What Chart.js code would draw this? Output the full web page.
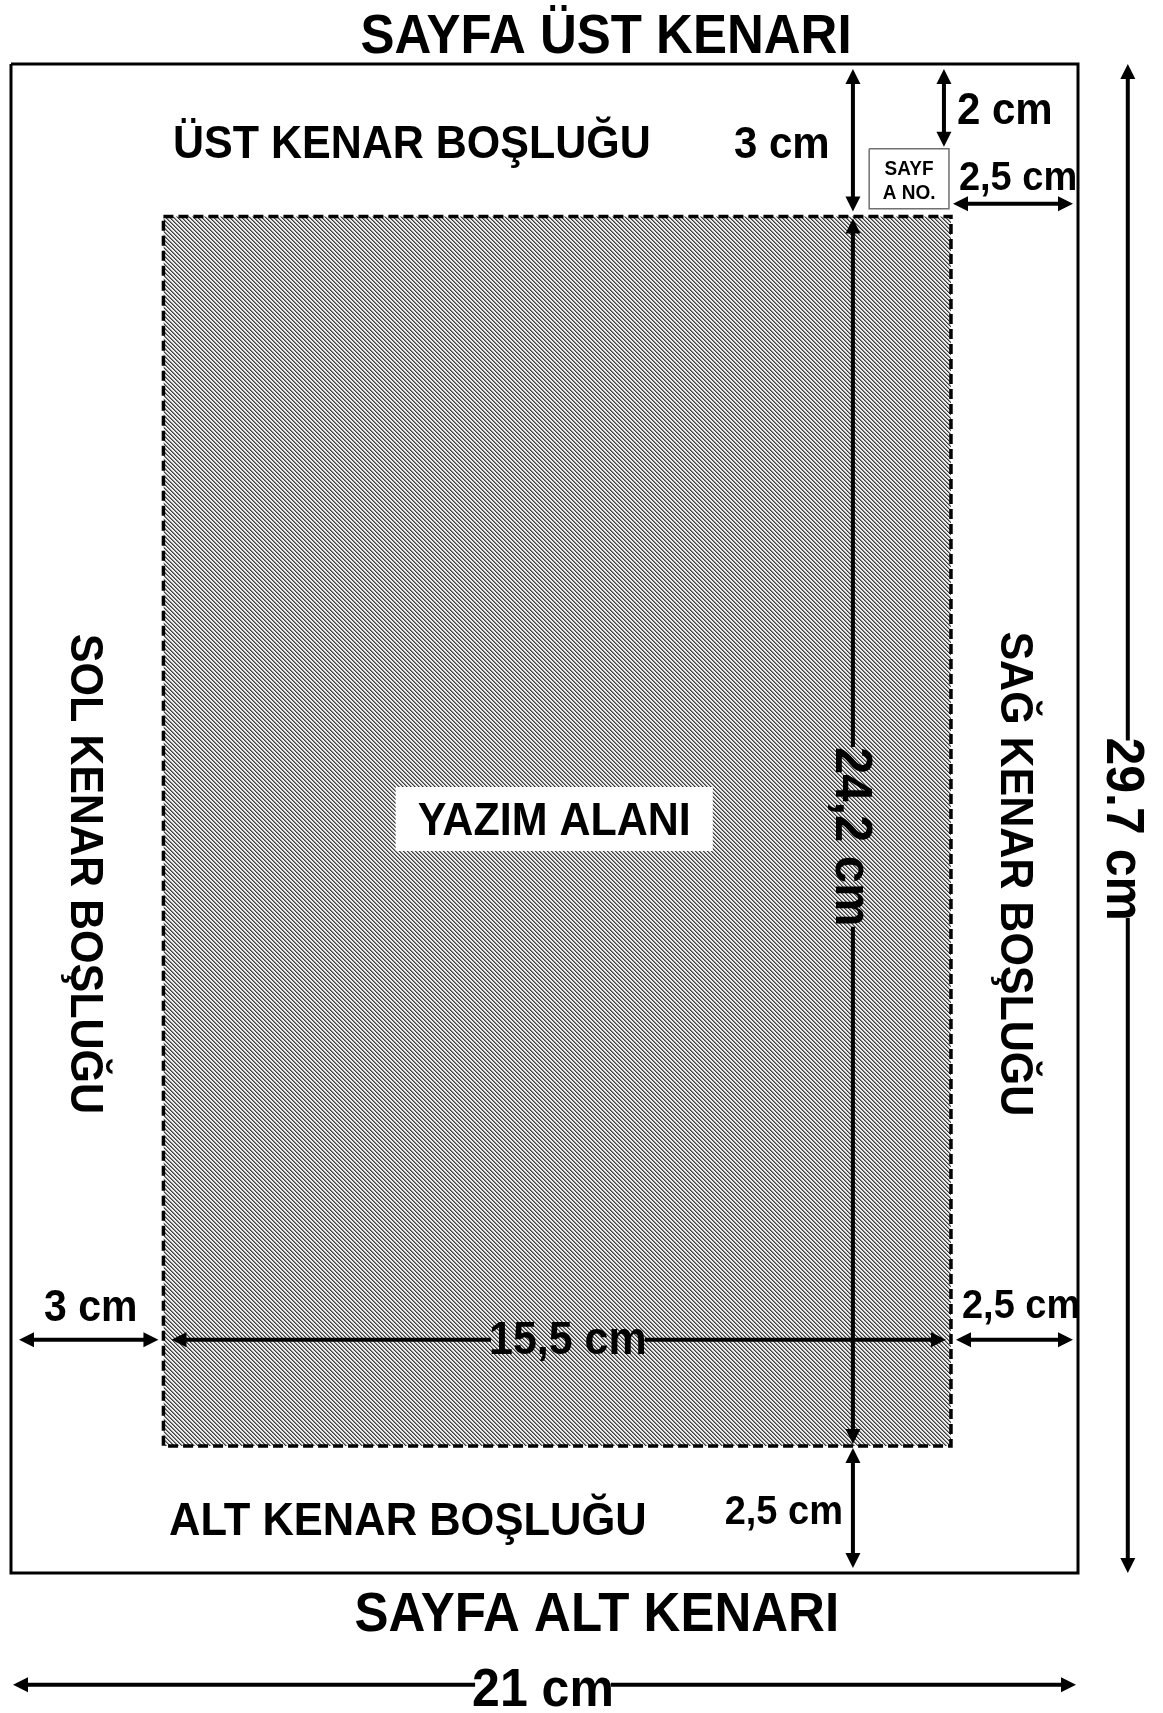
<!DOCTYPE html>
<html lang="tr">
<head>
<meta charset="utf-8">
<title>Sayfa Düzeni</title>
<script src="https://cdn.jsdelivr.net/npm/chart.js@4/dist/chart.umd.min.js"></script>
<style>
  html, body { margin: 0; padding: 0; background: #fff; }
  canvas { display: block; }
</style>
</head>
<body>
<canvas id="sayfa" width="1163" height="1713"></canvas>
<script>
// A4 sayfa ölçüleri ve kenar boşlukları (cm)
const pageSize = [21, 29.7];                 // genişlik, yükseklik
const pageSizeLabels = ['21 cm', '29.7 cm'];
const margins = [3, 3, 2.5, 2.5];            // üst, sol, sağ, alt
const marginLabels = ['ÜST KENAR BOŞLUĞU', 'SOL KENAR BOŞLUĞU', 'SAĞ KENAR BOŞLUĞU', 'ALT KENAR BOŞLUĞU'];
const edgeTitles = ['SAYFA ÜST KENARI', 'SAYFA ALT KENARI'];
const pageNoOffset = [2, 2.5];               // üstten, sağdan
const pageNoText = ['SAYF', 'A NO.'];
const areaLabel = 'YAZIM ALANI';

const FONT = '"Liberation Sans", Arial, Helvetica, sans-serif';
const cm = v => String(+v.toFixed(1)).replace('.', ',') + ' cm';

const [W, H] = pageSize;
const [mTop, mLeft, mRight, mBottom] = margins;
const area = { x0: mLeft, x1: W - mRight, y0: mTop, y1: H - mBottom };

// sayfa no kutusu (çizimde ölçekli değil, resme göre)
const pn = { x1: W - pageNoOffset[1] - 0.04 };
pn.x0 = pn.x1 - 1.57;
pn.y1 = mTop - 0.15;
pn.y0 = pn.y1 - 1.18;

function hatch() {
  const c = document.createElement('canvas');
  c.width = c.height = 4;
  const g = c.getContext('2d');
  const img = g.createImageData(4, 4);
  const tone = [62, 140, 236, 236];
  for (let j = 0; j < 4; j++) {
    for (let i = 0; i < 4; i++) {
      const v = tone[(i - j + 8) % 4];
      const k = (j * 4 + i) * 4;
      img.data[k] = img.data[k + 1] = img.data[k + 2] = v;
      img.data[k + 3] = 255;
    }
  }
  g.putImageData(img, 0, 0);
  return g.createPattern(c, 'repeat');
}

const rect = (x0, y0, x1, y1) => [
  {x: x0, y: y0}, {x: x1, y: y0}, {x: x1, y: y1}, {x: x0, y: y1}, {x: x0, y: y0}
];
const line = extra => Object.assign({
  pointRadius: 0, pointHitRadius: 0, tension: 0, fill: false, clip: false,
  borderColor: '#000', backgroundColor: 'transparent'
}, extra);

function label(ctx, str, cx, cy, size, rot) {
  ctx.save();
  ctx.translate(cx, cy);
  if (rot) ctx.rotate(rot);
  ctx.scale(1, 1.07);
  ctx.font = 'bold ' + size + 'px ' + FONT;
  ctx.textAlign = 'center';
  ctx.textBaseline = 'alphabetic';
  ctx.fillStyle = '#000';
  ctx.fillText(str, 0, size * 0.358);
  ctx.restore();
}

function textWidth(ctx, str, size) {
  ctx.save();
  ctx.font = 'bold ' + size + 'px ' + FONT;
  const w = ctx.measureText(str).width;
  ctx.restore();
  return w;
}

// çift başlı ok; gc = boşluk merkezi (piksel), gl = boşluk uzunluğu
function arrow(ctx, x1, y1, x2, y2, gc, gl) {
  const dx = x2 - x1, dy = y2 - y1, len = Math.hypot(dx, dy);
  const ux = dx / len, uy = dy / len;
  const head = 15, hw = 7.5;
  const at = t => [x1 + ux * t, y1 + uy * t];
  ctx.save();
  ctx.strokeStyle = ctx.fillStyle = '#000';
  ctx.lineWidth = 4;
  ctx.beginPath();
  const a = head - 2, b = len - head + 2;
  if (gc) {
    const m = (gc[0] - x1) * ux + (gc[1] - y1) * uy;
    ctx.moveTo(...at(a)); ctx.lineTo(...at(m - gl / 2));
    ctx.moveTo(...at(m + gl / 2)); ctx.lineTo(...at(b));
  } else {
    ctx.moveTo(...at(a)); ctx.lineTo(...at(b));
  }
  ctx.stroke();
  [[x1, y1, 1], [x2, y2, -1]].forEach(([tx, ty, s]) => {
    ctx.beginPath();
    ctx.moveTo(tx, ty);
    ctx.lineTo(tx + s * ux * head - uy * hw, ty + s * uy * head + ux * hw);
    ctx.lineTo(tx + s * ux * head + uy * hw, ty + s * uy * head - ux * hw);
    ctx.closePath();
    ctx.fill();
  });
  ctx.restore();
}

const sketch = {
  id: 'sketch',
  beforeDraw(chart) {
    const {ctx, width, height} = chart;
    ctx.save();
    ctx.fillStyle = '#fff';
    ctx.fillRect(0, 0, width, height);
    ctx.restore();
  },
  afterDatasetsDraw(chart) {
    const {ctx} = chart;
    const sx = chart.scales.x, sy = chart.scales.y;
    const X = v => sx.getPixelForValue(v), Y = v => sy.getPixelForValue(v);
    const R = Math.PI / 2;
    const ins = 5;

    // yazım alanı etiketi (beyaz kutu)
    const ax = X((area.x0 + area.x1) / 2) - 3, ay = Y(14.86);
    const aw = textWidth(ctx, areaLabel, 43);
    ctx.fillStyle = '#fff';
    ctx.fillRect(ax - aw / 2 - 22, ay - 32, aw + 44, 64);
    label(ctx, areaLabel, ax, ay, 43);

    // başlıklar
    label(ctx, edgeTitles[0], X(11.71), Y(-0.61), 51);
    label(ctx, edgeTitles[1], X(11.53), Y(30.45), 51);
    label(ctx, marginLabels[0], X(7.89), Y(1.535), 43);
    label(ctx, marginLabels[3], X(7.81), Y(28.62), 43.5);
    label(ctx, marginLabels[1], X(mLeft / 2), Y(15.94), 43, R);
    label(ctx, marginLabels[2], X(19.8), Y(15.94), 43, R);

    // sayfa no kutusu yazısı
    const pcx = X((pn.x0 + pn.x1) / 2);
    label(ctx, pageNoText[0], pcx, Y(pn.y0) + 19, 19);
    label(ctx, pageNoText[1], pcx, Y(pn.y0) + 43, 19);

    // dikey ölçü hattı (3 cm / 24,2 cm / 2,5 cm)
    const vx = X(16.57);
    arrow(ctx, vx, Y(0) + ins, vx, Y(mTop) - ins);
    label(ctx, cm(mTop), X(15.17), Y(1.535), 42);
    const hTxt = cm(area.y1 - area.y0);
    const hc = [vx, Y(15.21)];
    const hw = textWidth(ctx, hTxt, 49);
    arrow(ctx, vx, Y(mTop) + 2, vx, Y(area.y1) - 2, hc, hw);
    label(ctx, hTxt, hc[0] + 2, hc[1], 49, R);
    arrow(ctx, vx, Y(area.y1) + 2, vx, Y(H) - ins);
    label(ctx, cm(mBottom), X(15.21), Y(28.44), 38);

    // sayfa no: üstten ve sağdan
    const nx = X(pn.x1) - 5;
    arrow(ctx, nx, Y(0) + ins, nx, Y(pn.y0) - 2);
    label(ctx, cm(pageNoOffset[0]), X(19.56), Y(0.87), 42);
    const ny = Y(pn.y1) - 5;
    arrow(ctx, X(area.x1) + 2, ny, X(W) - ins, ny);
    label(ctx, cm(pageNoOffset[1]), X(19.82), Y(2.2), 38);

    // yatay ölçü hattı (3 cm / 15,5 cm / 2,5 cm)
    const hy = Y(25.11);
    arrow(ctx, X(0) + ins + 3, hy, X(mLeft) - ins, hy);
    label(ctx, cm(mLeft), X(1.57), Y(24.44), 41);
    const wTxt = cm(area.x1 - area.x0);
    const wc = [X(10.96), hy - 2];
    const ww = textWidth(ctx, wTxt, 43);
    arrow(ctx, X(mLeft) + ins + 3, hy, X(area.x1) - ins, hy, wc, ww - 4);
    label(ctx, wTxt, wc[0], wc[1], 43);
    arrow(ctx, X(area.x1) + ins, hy, X(W) - ins, hy);
    label(ctx, cm(mRight), X(19.88), Y(24.39), 38);

    // sayfa boyutları
    const by = Y(31.9);
    const bc = [X(10.47), by + 2];
    arrow(ctx, X(0) + 2, by, X(W) - 2, by, bc, textWidth(ctx, pageSizeLabels[0], 50) - 6);
    label(ctx, pageSizeLabels[0], bc[0], bc[1], 50);
    const rx = X(21.98);
    const rc = [rx - 2, Y(15.06)];
    arrow(ctx, rx, Y(0), rx, Y(H), rc, textWidth(ctx, pageSizeLabels[1], 50) - 6);
    label(ctx, pageSizeLabels[1], rc[0], rc[1], 50, R);
  }
};

new Chart(document.getElementById('sayfa'), {
  type: 'line',
  data: {
    datasets: [
      line({ data: rect(pn.x0, pn.y0, pn.x1, pn.y1), borderWidth: 1.5, borderColor: '#707070', order: 0 }),
      line({ data: rect(0, 0, W, H), borderWidth: 3, order: 1 }),
      line({ data: rect(area.x0, area.y0, area.x1, area.y1), borderWidth: 3.5, borderDash: [10, 5], order: 2 }),
      line({ data: [{x: area.x0, y: area.y0}, {x: area.x1, y: area.y0}],
             fill: {value: area.y1}, backgroundColor: hatch(), borderWidth: 0, order: 3 })
    ]
  },
  options: {
    responsive: false,
    animation: false,
    events: [],
    layout: { padding: { left: 11, top: 64, right: 85, bottom: 140 } },
    plugins: { legend: { display: false }, tooltip: { enabled: false }, title: { display: false } },
    scales: {
      x: { type: 'linear', min: 0, max: W, display: false },
      y: { type: 'linear', min: 0, max: H, reverse: true, display: false }
    }
  },
  plugins: [sketch]
});
</script>
</body>
</html>
